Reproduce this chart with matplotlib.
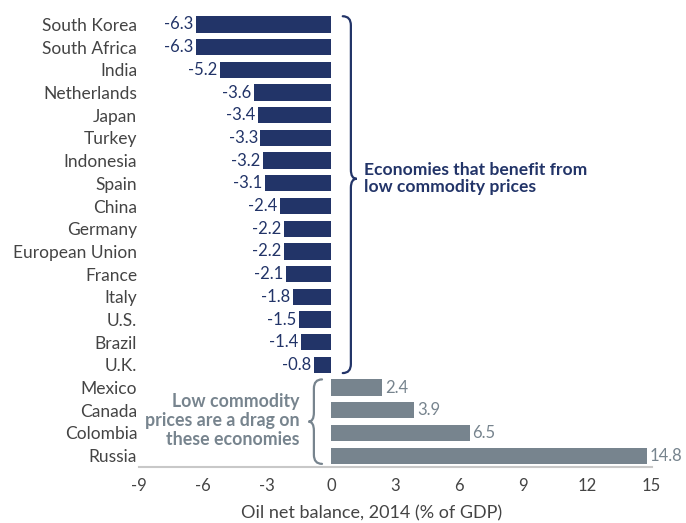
import numpy as np
import matplotlib
matplotlib.use("Agg")
import matplotlib.pyplot as plt
from matplotlib.path import Path
from matplotlib.patches import PathPatch

plt.rcParams['font.family'] = ['Lato', 'DejaVu Sans']

countries = ["South Korea", "South Africa", "India", "Netherlands", "Japan", "Turkey",
             "Indonesia", "Spain", "China", "Germany", "European Union", "France",
             "Italy", "U.S.", "Brazil", "U.K.", "Mexico", "Canada", "Colombia", "Russia"]
values = [-6.3, -6.3, -5.2, -3.6, -3.4, -3.3, -3.2, -3.1, -2.4, -2.2, -2.2, -2.1,
          -1.8, -1.5, -1.4, -0.8, 2.4, 3.9, 6.5, 14.8]
xticks = [-9, -6, -3, 0, 3, 6, 9, 12, 15]

NAVY = "#223468"
GREY = "#77848e"
TXT = "#444444"


def brace(ax, x_end, x_mid, x_tip, y0, y1, ym, r, color):
    # curly brace: ends at x_end, spine at x_mid, cusp at x_tip
    verts = [(x_end, y0), (x_mid, y0), (x_mid, y0 + r),
             (x_mid, ym - r),
             (x_mid, ym), (x_tip, ym),
             (x_mid, ym), (x_mid, ym + r),
             (x_mid, y1 - r),
             (x_mid, y1), (x_end, y1)]
    codes = [Path.MOVETO, Path.CURVE3, Path.CURVE3,
             Path.LINETO,
             Path.CURVE3, Path.CURVE3,
             Path.CURVE3, Path.CURVE3,
             Path.LINETO,
             Path.CURVE3, Path.CURVE3]
    ax.add_patch(PathPatch(Path(verts, codes), fill=False, edgecolor=color,
                           lw=1.6, capstyle='round', clip_on=False))


fig = plt.figure(figsize=(6.86, 5.23), dpi=100)
ax = fig.add_axes([0.202, 0.107, 0.748, 0.868])

y = np.arange(len(countries))
colors = [NAVY if v < 0 else GREY for v in values]
ax.barh(y, values, height=0.72, color=colors)

for yi, v in zip(y, values):
    if v < 0:
        ax.text(v - 0.12, yi, f"{v:.1f}", ha='right', va='center', color=NAVY, fontsize=12)
    else:
        ax.text(v + 0.12, yi, f"{v:.1f}", ha='left', va='center', color=GREY, fontsize=12)

ax.set_xlim(-9, 15)
ax.set_ylim(len(countries) - 0.5, -0.5)
ax.set_yticks(y)
ax.set_yticklabels(countries, fontsize=12.5, color=TXT)
ax.set_xticks(xticks)
ax.set_xticklabels([str(t) for t in xticks], fontsize=12, color=TXT)
ax.tick_params(axis='both', length=0)
ax.tick_params(axis='y', pad=1)
ax.tick_params(axis='x', pad=8)
ax.set_xlabel("Oil net balance, 2014 (% of GDP)", fontsize=13, color=TXT)
ax.xaxis.set_label_coords(0.455, -0.085)

for s in ['top', 'right', 'left']:
    ax.spines[s].set_visible(False)
ax.spines['bottom'].set_color("#c8c8c8")
ax.spines['bottom'].set_linewidth(1.5)

# braces and group notes
n_neg = sum(1 for v in values if v < 0)
brace(ax, 0.55, 0.93, 1.2, -0.36, n_neg - 1 + 0.36, 6.8, 0.4, NAVY)
ax.text(1.55, 6.8, "Economies that benefit from\nlow commodity prices", ha='left', va='center',
        color=NAVY, fontsize=12.6, fontweight='bold', linespacing=1.05)

brace(ax, -0.42, -0.8, -1.05, n_neg - 0.36, len(values) - 1 + 0.36, n_neg + 1.5, 0.4, GREY)
ax.text(-1.45, n_neg + 1.45, "Low commodity\nprices are a drag on\nthese economies", ha='right',
        va='center', color=GREY, fontsize=12.8, fontweight='bold', linespacing=1.12)

fig.savefig("out.png", dpi=100)
